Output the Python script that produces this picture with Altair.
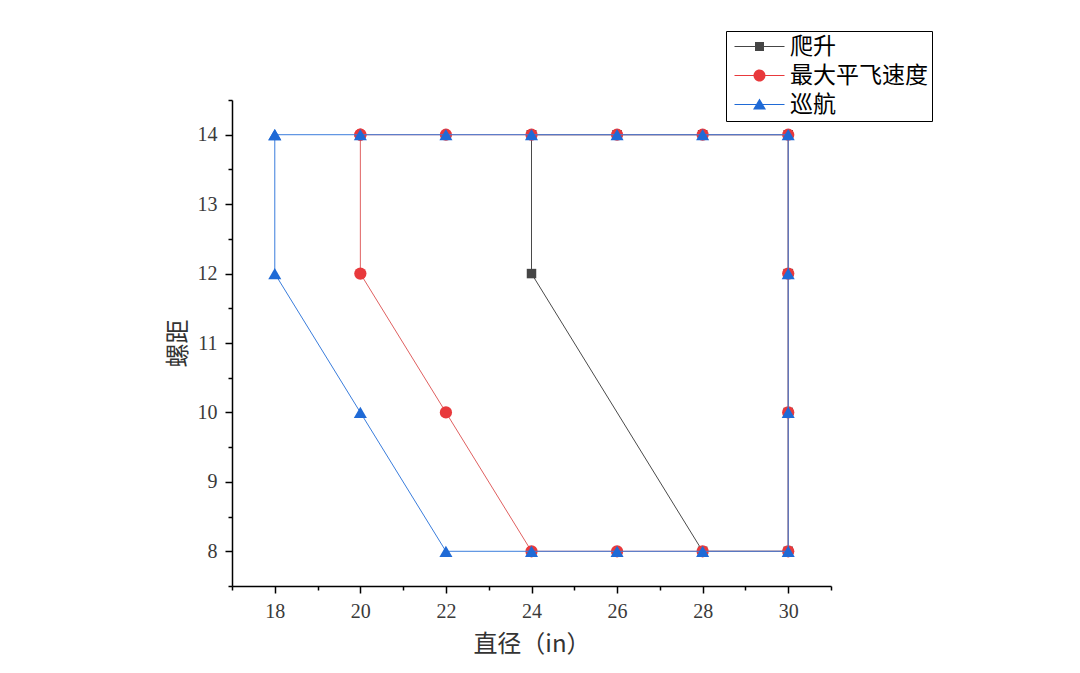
import altair as alt
import pandas as pd

# ---- data ----
series_names = ["爬升", "最大平飞速度", "巡航"]
climb_x = [24, 24, 28, 30, 30, 30, 30, 28, 26, 24]
climb_y = [14, 12, 8, 8, 10, 12, 14, 14, 14, 14]
maxspeed_x = [20, 20, 22, 24, 26, 28, 30, 30, 30, 30, 28, 26, 24, 22, 20]
maxspeed_y = [14, 12, 10, 8, 8, 8, 8, 10, 12, 14, 14, 14, 14, 14, 14]
cruise_x = [18, 18, 20, 22, 24, 26, 28, 30, 30, 30, 30, 28, 26, 24, 22, 20, 18]
cruise_y = [14, 12, 10, 8, 8, 8, 8, 8, 10, 12, 14, 14, 14, 14, 14, 14, 14]
x_ticks = list(range(17, 32))
y_ticks = [7.5 + 0.5 * i for i in range(15)]

# ---- styles ----
marker_colors = ["#454545", "#e8393c", "#1f6ad6"]
line_colors = ["#4a4a4a", "#e06060", "#3a7ddc"]
marker_shapes = ["square", "circle", "triangle-up"]
marker_sizes = [90, 150, 170]

rows = []
for name, xs, ys in [(series_names[0], climb_x, climb_y),
                     (series_names[1], maxspeed_x, maxspeed_y),
                     (series_names[2], cruise_x, cruise_y)]:
    for i, (a, b) in enumerate(zip(xs, ys)):
        rows.append({"series": name, "x": a, "y": b, "idx": i})
df = pd.DataFrame(rows)

serif = "Liberation Serif"
cjk = "Noto Sans CJK SC"

x_axis = alt.Axis(
    values=x_ticks,
    labelExpr="datum.value % 2 == 0 ? '' + datum.value : ''",
    tickSize={"condition": {"test": "datum.value % 2 == 0", "value": 7}, "value": 4},
    tickColor="black", tickWidth=1.5, domainColor="black", domainWidth=1.5,
    grid=False, labelFont=serif, labelFontSize=20, labelColor="#3a3a3a",
    labelPadding=8, labelOverlap=False, labelFlush=False,
    titleFont=cjk, titleFontSize=24, titleFontWeight="normal", titleColor="#333333",
    titlePadding=11,
)
y_axis = alt.Axis(
    values=y_ticks,
    labelExpr="datum.value % 1 == 0 ? '' + datum.value : ''",
    tickSize={"condition": {"test": "datum.value % 1 == 0", "value": 7}, "value": 4},
    tickColor="black", tickWidth=1.5, domainColor="black", domainWidth=1.5,
    grid=False, labelFont=serif, labelFontSize=20, labelColor="#3a3a3a",
    labelPadding=8, labelOverlap=False, labelFlush=False,
    titleFont=cjk, titleFontSize=24, titleFontWeight="normal", titleColor="#333333",
    titlePadding=7,
)

X = alt.X("x:Q", scale=alt.Scale(domain=[17, 31], nice=False, zero=False),
          axis=x_axis, title="直径（in）")
Y = alt.Y("y:Q", scale=alt.Scale(domain=[7.5, 14.5], nice=False, zero=False),
          axis=y_axis, title="螺距")

layers = []
for i, name in enumerate(series_names):
    base = alt.Chart(df).transform_filter(alt.datum.series == name)
    layers.append(base.mark_line(color=line_colors[i], strokeWidth=1).encode(
        x=X, y=Y, order="idx:Q"))
    layers.append(base.mark_point(filled=True, shape=marker_shapes[i],
                                  size=marker_sizes[i], color=marker_colors[i],
                                  opacity=1).encode(x=X, y=Y))

# legend symbols: line segment + marker (custom paths)
line_part = "M-1.4,-0.1H8.6V0.1H-1.4Z"
legend_paths = [
    line_part + "M2.7,-0.9H4.5V0.9H2.7Z",
    line_part + "M2.4,0A1.2,1.2 0 1,1 4.8,0A1.2,1.2 0 1,1 2.4,0Z",
    line_part + "M3.6,-1.2L4.9,1.0L2.3,1.0Z",
]
legend = alt.Legend(
    orient="none", legendX=494, legendY=-69, title=None,
    padding=4, rowPadding=5, labelFont=cjk, labelFontSize=23, labelColor="black",
    labelOffset=37, labelLimit=400, strokeColor="black", fillColor="white",
    symbolStrokeWidth=0, symbolSize=100, cornerRadius=0,
)
legend_layer = alt.Chart(df).transform_filter("false").mark_point(
    filled=True, size=100, opacity=1).encode(
    x=X, y=Y,
    color=alt.Color("series:N", scale=alt.Scale(domain=series_names, range=marker_colors),
                    legend=legend),
    shape=alt.Shape("series:N", scale=alt.Scale(domain=series_names, range=legend_paths),
                    legend=legend),
)
layers.append(legend_layer)

chart = alt.layer(*layers).properties(
    width=599, height=486,
    background="white",
    autosize=alt.AutoSizeParams(type="none"),
    padding={"left": 224, "top": 92, "right": 241, "bottom": 79},
).configure_view(strokeWidth=0, stroke=None)

chart.save("out.html", embed_options={"renderer": "svg", "actions": False})
